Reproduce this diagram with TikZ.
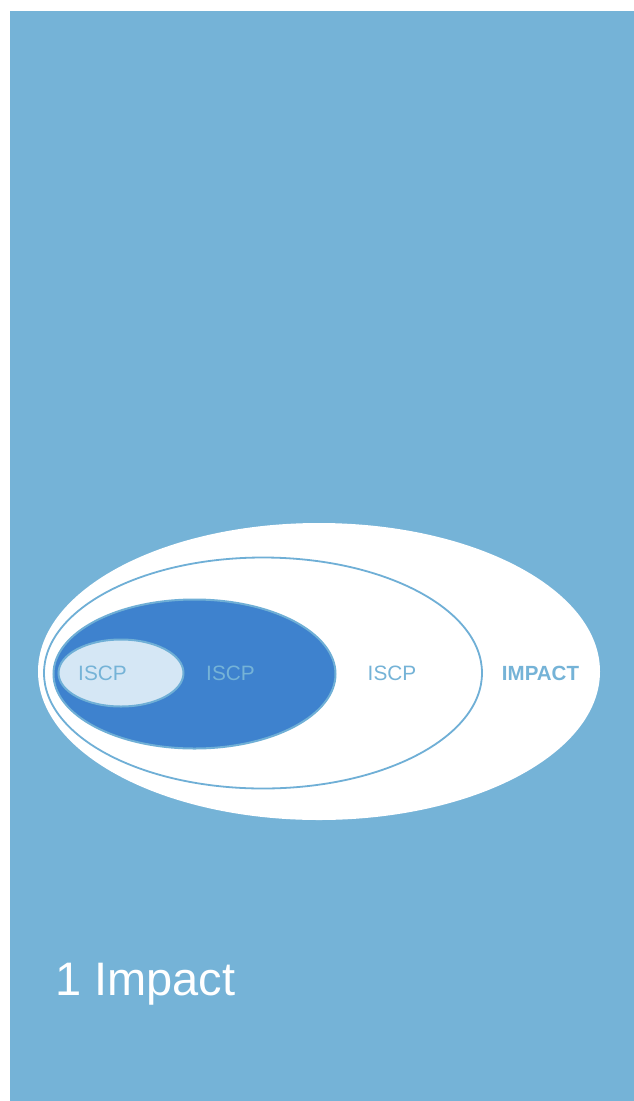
\documentclass[tikz,border=0pt]{standalone}
\usepackage{fontspec}
\setmainfont{Liberation Sans}
\usetikzlibrary{shapes.geometric}
\definecolor{bgblue}{HTML}{75B3D7}
\definecolor{darkblue}{HTML}{3E82CE}
\definecolor{paleblue}{HTML}{D5E7F5}
\definecolor{lineblue}{HTML}{6FAFD6}
\tikzset{
  oval/.style={ellipse, inner sep=0pt, outer sep=0pt},
  lbl/.style={text=bgblue, font=\fontsize{20.8}{24}\selectfont, inner sep=0pt, anchor=center}
}
\begin{document}
\begin{tikzpicture}[x=1pt,y=-1pt]
\useasboundingbox (0,0) rectangle (634,1101);
\fill[white] (0,0) rectangle (634,1101);
\fill[bgblue] (10,11) rectangle (634,1101);
\node[oval, fill=white, minimum width=562pt, minimum height=297pt] (impact) at (319,671.5) {};
\node[oval, fill=white, draw=lineblue, line width=1.8pt, minimum width=438pt, minimum height=231pt] (iscp3) at (263,673) {};
\node[oval, fill=darkblue, draw=lineblue, line width=2pt, minimum width=282pt, minimum height=149pt] (iscp2) at (194.5,674) {};
\node[oval, fill=paleblue, draw=lineblue, line width=2pt, minimum width=125pt, minimum height=67pt] (iscp1) at (121,673) {};
\node[lbl] (t1) at (102.5,673.5) {ISCP};
\node[lbl] (t2) at (230.5,673.5) {ISCP};
\node[lbl] (t3) at (392,673.5) {ISCP};
\node[lbl, font=\fontsize{20.5}{24}\selectfont\bfseries] (t4) at (540.5,673.5) {IMPACT};
\node[text=white, font=\fontsize{47}{56}\selectfont, inner sep=0pt, anchor=base west] (title) at (55,995) {1 Impact};
\end{tikzpicture}
\end{document}
